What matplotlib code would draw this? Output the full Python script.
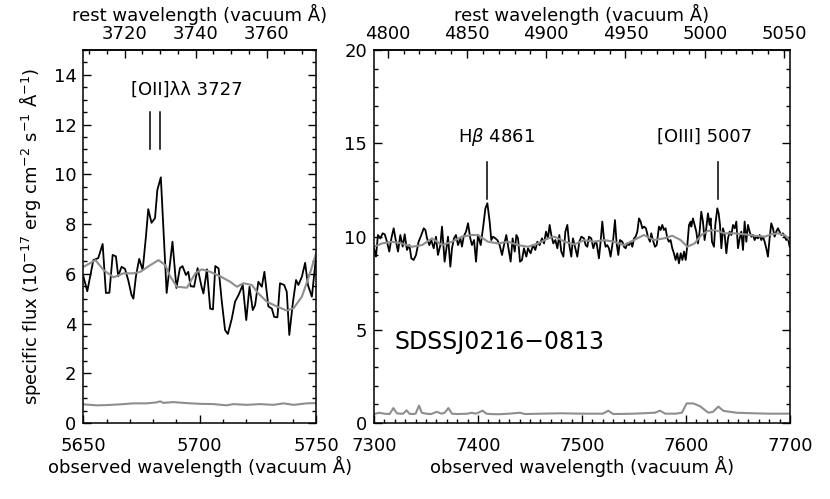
import matplotlib
matplotlib.use("Agg")
import matplotlib.pyplot as plt
from matplotlib.ticker import MultipleLocator, FixedLocator

# redshift used for the rest-frame axis
z = 0.5236

# ---- left panel: [OII] region ----
wave_oii = [5650.0, 5651.7, 5654.3, 5656.4, 5658.3, 5659.7, 5661.2, 5662.6, 5664.0, 5665.0,
            5666.4, 5667.9, 5669.3, 5670.7, 5671.5, 5672.6, 5674.0, 5675.5, 5676.9, 5677.9,
            5679.3, 5680.8, 5681.8, 5683.3, 5685.8, 5688.3, 5690.0, 5691.5, 5692.6, 5694.1,
            5695.1, 5696.1, 5697.6, 5699.1, 5700.8, 5701.6, 5703.1, 5704.5, 5705.7, 5706.7,
            5708.1, 5709.5, 5710.9, 5712.1, 5713.8, 5715.2, 5716.7, 5718.5, 5720.0, 5721.4,
            5722.8, 5723.8, 5725.2, 5726.7, 5727.8, 5729.5, 5731.0, 5732.0, 5733.4, 5734.5,
            5736.3, 5737.4, 5738.5, 5740.0, 5741.4, 5742.4, 5743.9, 5745.3, 5746.5, 5748.2,
            5750.0]
flux_oii = [5.9, 5.3, 6.55, 6.63, 7.2, 5.23, 5.24, 6.76, 6.7, 5.9,
            6.28, 6.2, 5.74, 5.15, 5.0, 5.9, 6.6, 6.15, 7.5, 8.6,
            8.05, 8.24, 9.37, 9.88, 5.23, 7.29, 5.43, 6.23, 6.31, 5.95,
            6.08, 5.5, 5.48, 6.23, 5.48, 5.21, 6.18, 4.6, 4.57, 6.31,
            6.22, 4.88, 3.74, 3.58, 4.2, 4.88, 5.15, 5.55, 4.14, 5.48,
            4.54, 4.74, 5.68, 5.48, 6.08, 4.69, 4.6, 4.27, 4.25, 5.62,
            5.55, 5.28, 3.54, 4.81, 5.75, 5.55, 5.88, 6.44, 5.55, 5.08,
            6.69]

cont_wave_oii = [5650.1, 5655.2, 5658.7, 5663.0, 5667.3, 5671.6, 5674.5, 5678.8, 5682.3, 5685.2,
                 5687.3, 5690.2, 5694.5, 5698.1, 5700.9, 5704.5, 5708.8, 5713.1, 5716.0, 5718.8,
                 5722.4, 5725.2, 5728.8, 5733.1, 5737.4, 5740.3, 5743.9, 5747.4, 5750.0]
cont_oii = [6.28, 6.55, 6.15, 5.86, 6.02, 6.02, 6.08, 6.35, 6.55, 6.35,
            5.9, 5.48, 5.44, 6.02, 6.18, 6.08, 5.9, 5.68, 5.48, 5.62,
            5.55, 5.21, 4.88, 4.69, 4.52, 4.61, 5.08, 6.02, 6.82]

err_wave_oii = [5650.0, 5655.7, 5660.0, 5665.8, 5671.5, 5677.2, 5681.5, 5683.0, 5684.4, 5688.7,
                5694.4, 5700.2, 5705.9, 5711.6, 5714.5, 5720.2, 5725.9, 5731.7, 5736.0, 5740.3,
                5746.0, 5750.0]
err_oii = [0.75, 0.71, 0.72, 0.75, 0.79, 0.79, 0.83, 0.87, 0.81, 0.84,
           0.8, 0.77, 0.76, 0.71, 0.76, 0.73, 0.76, 0.73, 0.79, 0.73,
           0.79, 0.8]

# ---- right panel: Hbeta / [OIII] region ----
wave_hb = [7300.0, 7301.9, 7303.8, 7306.1, 7308.3, 7310.3, 7312.5, 7314.7, 7316.7, 7318.9,
           7321.2, 7323.1, 7325.3, 7327.6, 7329.5, 7331.7, 7334.0, 7335.9, 7338.1, 7340.4,
           7342.9, 7345.5, 7347.8, 7349.4, 7351.0, 7353.2, 7355.1, 7357.4, 7359.6, 7361.5,
           7363.8, 7365.4, 7367.9, 7369.2, 7371.2, 7373.4, 7375.0, 7376.9, 7378.8, 7380.8,
           7383.0, 7384.6, 7386.2, 7388.5, 7390.4, 7392.6, 7394.2, 7396.2, 7398.1, 7400.0,
           7402.6, 7404.8, 7407.1, 7409.0, 7411.2, 7412.8, 7414.4, 7416.7, 7418.6, 7420.8,
           7423.1, 7425.0, 7427.2, 7429.5, 7431.4, 7433.3, 7435.3, 7436.9, 7438.5, 7440.4,
           7442.3, 7444.2, 7446.5, 7448.1, 7450.6, 7452.9, 7455.1, 7457.1, 7459.3, 7461.5,
           7463.5, 7465.4, 7467.3, 7468.9, 7470.5, 7472.4, 7474.4, 7476.3, 7478.2, 7480.1,
           7482.1, 7484.0, 7485.9, 7487.8, 7489.7, 7491.3, 7493.6, 7495.5, 7497.4, 7499.4,
           7501.9, 7503.5, 7505.1, 7506.7, 7508.9, 7510.9, 7512.8, 7514.1, 7516.3, 7517.9,
           7519.5, 7521.1, 7522.7, 7524.3, 7525.9, 7527.5, 7530.1, 7531.7, 7533.3, 7534.9,
           7536.5, 7538.8, 7540.4, 7542.0, 7543.6, 7545.2, 7546.8, 7548.4, 7550.0, 7551.6,
           7553.2, 7554.8, 7556.4, 7558.0, 7559.6, 7561.5, 7563.4, 7565.4, 7566.6, 7568.6,
           7570.2, 7571.8, 7574.0, 7575.6, 7577.2, 7578.8, 7580.4, 7582.0, 7583.6, 7585.2,
           7586.8, 7588.4, 7590.0, 7591.6, 7593.2, 7594.9, 7596.5, 7598.1, 7599.7, 7601.3,
           7602.9, 7604.5, 7605.1, 7606.7, 7608.3, 7609.9, 7611.5, 7613.1, 7614.7, 7616.3,
           7617.9, 7619.5, 7621.1, 7622.7, 7623.7, 7625.0, 7626.9, 7628.2, 7630.1, 7631.4,
           7632.7, 7634.0, 7635.6, 7637.2, 7638.8, 7640.4, 7642.0, 7643.6, 7645.2, 7646.8,
           7648.4, 7650.0, 7651.6, 7653.2, 7654.8, 7656.4, 7658.0, 7659.6, 7661.2, 7662.8,
           7664.4, 7666.0, 7667.6, 7669.2, 7670.8, 7672.4, 7674.0, 7675.6, 7677.2, 7678.8,
           7680.4, 7682.0, 7683.6, 7685.2, 7686.8, 7688.4, 7690.0, 7691.6, 7693.2, 7694.9,
           7696.5, 7698.1, 7699.7]
flux_hb = [9.37, 8.92, 10.08, 9.90, 10.17, 10.12, 9.72, 9.19, 9.90, 10.44,
           9.72, 9.19, 10.08, 9.46, 10.12, 9.28, 9.54, 8.83, 8.74, 9.01,
           9.72, 10.08, 10.44, 10.35, 9.90, 9.54, 9.81, 9.37, 9.99, 9.01,
           9.54, 10.53, 8.65, 9.19, 9.99, 8.38, 9.37, 9.90, 10.08, 9.54,
           9.90, 9.46, 9.99, 10.26, 10.71, 9.90, 9.54, 9.81, 8.65, 10.08,
           9.54, 10.44, 11.51, 11.78, 10.80, 9.81, 9.99, 9.90, 9.81, 9.54,
           9.01, 9.54, 10.08, 9.28, 8.65, 9.90, 9.19, 10.08, 9.90, 8.65,
           8.74, 9.37, 8.92, 9.37, 9.10, 9.54, 9.28, 9.72, 9.54, 9.90,
           9.63, 10.26, 9.90, 10.62, 10.08, 9.63, 9.81, 9.37, 10.08, 9.19,
           8.92, 10.26, 10.62, 9.54, 8.92, 9.90, 9.37, 8.92, 9.72, 9.99,
           9.90, 9.54, 9.45, 9.99, 9.90, 9.37, 9.72, 9.63, 8.83, 9.72,
           10.80, 9.90, 9.45, 9.54, 9.37, 8.92, 9.90, 10.88, 9.63, 9.01,
           9.81, 9.72, 9.45, 9.37, 9.63, 9.54, 9.72, 9.45, 9.90, 9.99,
           10.26, 10.97, 10.80, 10.44, 10.53, 10.44, 9.99, 9.72, 10.17, 9.72,
           9.45, 9.54, 10.53, 10.35, 10.62, 10.35, 10.44, 9.90, 9.72, 9.81,
           9.37, 9.10, 8.74, 9.10, 8.56, 9.10, 8.74, 9.19, 8.74, 9.54,
           10.62, 10.80, 10.53, 10.97, 10.62, 10.26, 9.63, 10.26, 11.33, 10.80,
           9.81, 10.44, 11.24, 10.62, 10.97, 9.72, 9.45, 10.62, 11.51, 11.24,
           10.62, 9.37, 10.44, 10.08, 9.10, 9.90, 10.26, 10.08, 10.62, 10.44,
           10.80, 9.37, 9.90, 10.26, 9.28, 10.80, 9.72, 10.62, 10.26, 9.99,
           10.08, 9.81, 9.99, 9.90, 10.08, 9.81, 9.99, 9.72, 9.37, 8.92,
           9.90, 10.71, 10.44, 9.99, 10.26, 10.44, 10.26, 10.08, 10.17, 9.99,
           9.81, 9.90, 9.45]

cont_wave_hb = [7300.0, 7307.7, 7317.3, 7326.9, 7336.5, 7346.2, 7355.8, 7365.4, 7375.0, 7384.6,
                7394.2, 7400.0, 7409.6, 7419.2, 7428.8, 7438.5, 7448.1, 7457.7, 7467.3, 7473.7,
                7483.3, 7492.9, 7502.0, 7511.5, 7521.1, 7530.7, 7540.4, 7550.0, 7559.6, 7569.2,
                7578.8, 7586.8, 7594.9, 7601.3, 7608.3, 7614.7, 7621.1, 7627.5, 7637.2, 7646.8,
                7656.4, 7666.0, 7675.6, 7682.0, 7688.4, 7694.9, 7699.7]
cont_hb = [9.45, 9.63, 9.72, 9.63, 9.45, 9.54, 9.90, 9.54, 9.72, 9.99,
           10.08, 10.08, 9.72, 9.63, 9.72, 9.54, 9.45, 9.63, 9.90, 9.99,
           9.72, 9.58, 9.80, 9.72, 9.81, 9.72, 9.54, 9.81, 10.08, 9.81,
           9.90, 10.04, 9.81, 9.45, 9.63, 10.08, 10.30, 10.35, 10.17, 10.17,
           10.12, 10.04, 9.99, 10.12, 10.17, 10.08, 9.81]

err_wave_hb = [7300, 7305, 7310, 7315, 7318.6, 7322, 7325, 7328, 7331.4, 7334,
               7337, 7340, 7343.3, 7346, 7350, 7355, 7360.3, 7365, 7368, 7371.5,
               7375, 7380, 7390, 7394, 7398, 7404.5, 7408, 7412, 7420, 7430,
               7440.4, 7445, 7460, 7480, 7500, 7520, 7525.3, 7530, 7550, 7570,
               7575, 7580, 7590, 7596, 7600.6, 7607, 7613.5, 7621.5, 7626, 7631.1,
               7636, 7648.7, 7665, 7680, 7700]
err_hb = [0.48, 0.55, 0.5, 0.48, 0.8, 0.52, 0.5, 0.5, 0.68, 0.5,
          0.48, 0.5, 0.93, 0.55, 0.5, 0.48, 0.6, 0.5, 0.55, 0.8,
          0.5, 0.48, 0.5, 0.55, 0.5, 0.66, 0.5, 0.48, 0.47, 0.5,
          0.55, 0.48, 0.5, 0.52, 0.5, 0.5, 0.66, 0.48, 0.5, 0.55,
          0.66, 0.5, 0.5, 0.55, 1.05, 1.05, 0.9, 0.55, 0.6, 0.88,
          0.65, 0.55, 0.52, 0.5, 0.5]

# emission line markers (vacuum rest wavelengths)
oii_lines = [3727.09, 3729.88]
hb_lines = [4862.68, 5008.24]

# rest-frame tick values shown on the top axes
rest_ticks_left = [3720, 3740, 3760]
rest_ticks_right = [4800, 4850, 4900, 4950, 5000, 5050]

gray = '#8e8e8e'
plt.rcParams['font.family'] = 'DejaVu Sans'
plt.rcParams['font.size'] = 13
plt.rcParams['axes.linewidth'] = 1.1

fig = plt.figure(figsize=(8.3, 4.99), dpi=100)
ax1 = fig.add_axes([0.1004, 0.1523, 0.2804, 0.7475])
ax2 = fig.add_axes([0.4506, 0.1523, 0.5012, 0.7475])


def to_rest(x):
    return x / (1 + z)


def to_obs(x):
    return x * (1 + z)


def style_axis(ax, xmaj, xmin, ymaj, ymin, top_ticks, top_min):
    ax.xaxis.set_major_locator(MultipleLocator(xmaj))
    ax.xaxis.set_minor_locator(MultipleLocator(xmin))
    ax.yaxis.set_major_locator(MultipleLocator(ymaj))
    ax.yaxis.set_minor_locator(MultipleLocator(ymin))
    ax.tick_params(which='both', direction='in', right=True, top=False, width=1.0)
    ax.tick_params(which='major', length=5.5)
    ax.tick_params(which='minor', length=3)
    ax.tick_params(axis='x', pad=10)
    ax.tick_params(axis='y', pad=5)
    ax.set_xlabel('observed wavelength (vacuum Å)', labelpad=1)
    sec = ax.secondary_xaxis('top', functions=(to_rest, to_obs))
    sec.xaxis.set_major_locator(FixedLocator(top_ticks))
    sec.xaxis.set_minor_locator(MultipleLocator(top_min))
    sec.tick_params(which='both', direction='in', width=1.0, pad=5)
    sec.tick_params(which='major', length=5.5)
    sec.tick_params(which='minor', length=3)
    sec.set_xlabel('rest wavelength (vacuum Å)', labelpad=3)
    return sec


# left panel
ax1.plot(wave_oii, flux_oii, color='black', lw=1.3)
ax1.plot(cont_wave_oii, cont_oii, color=gray, lw=1.5)
ax1.plot(err_wave_oii, err_oii, color=gray, lw=1.5)
ax1.set_xlim(5650, 5750)
ax1.set_ylim(0, 15)
style_axis(ax1, 50, 10, 2, 0.5, rest_ticks_left, 5)
for lam in oii_lines:
    ax1.plot([to_obs(lam)] * 2, [11.0, 12.5], color='black', lw=1.1)
ax1.text(5694.5, 13.4, '[OII]λλ 3727', ha='center', va='center')
ax1.set_ylabel('specific flux (10$^{-17}$ erg cm$^{-2}$ s$^{-1}$ Å$^{-1}$)')
ax1.yaxis.set_label_coords(-0.175, 0.5)

# right panel
ax2.plot(wave_hb, flux_hb, color='black', lw=1.3)
ax2.plot(cont_wave_hb, cont_hb, color=gray, lw=1.5)
ax2.plot(err_wave_hb, err_hb, color=gray, lw=1.5)
ax2.set_xlim(7300, 7700)
ax2.set_ylim(0, 20)
style_axis(ax2, 100, 10, 5, 1, rest_ticks_right, 10)
for lam in hb_lines:
    ax2.plot([to_obs(lam)] * 2, [12.0, 14.0], color='black', lw=1.1)
ax2.text(7417.3, 15.33, 'H$\\beta$ 4861', ha='center', va='center')
ax2.text(7618.3, 15.33, '[OIII] 5007', ha='center', va='center')
ax2.text(7320, 4.36, 'SDSSJ0216\u22120813', ha='left', va='center', fontsize=17)

fig.savefig('out.png', dpi=100)
